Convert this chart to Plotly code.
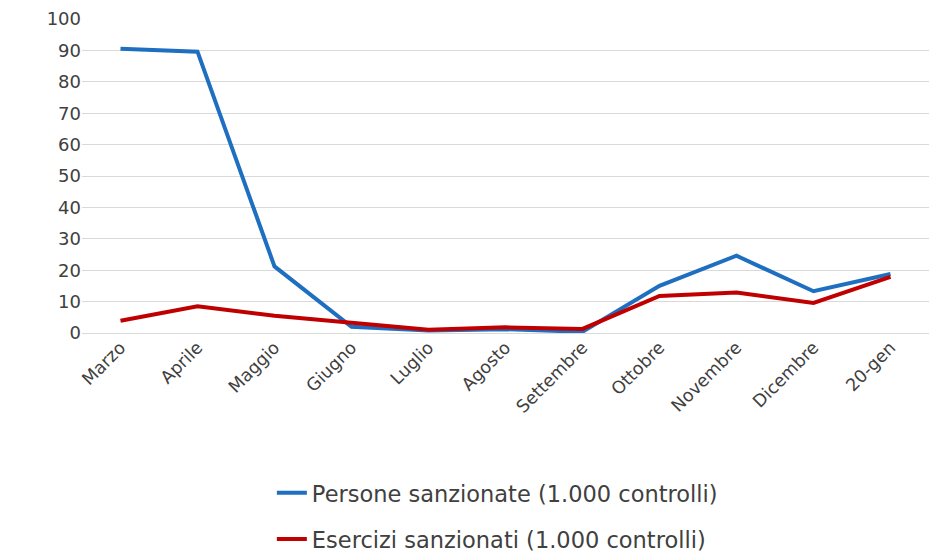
import plotly.graph_objects as go

months = ["Marzo", "Aprile", "Maggio", "Giugno", "Luglio", "Agosto", "Settembre",
          "Ottobre", "Novembre", "Dicembre", "20-gen"]
persone = [90.5, 89.6, 21.2, 2.0, 0.8, 1.2, 0.4, 15.0, 24.6, 13.3, 18.8]
esercizi = [3.9, 8.5, 5.5, 3.2, 1.0, 1.8, 1.3, 11.8, 12.9, 9.6, 17.9]
name_p = "Persone sanzionate (1.000 controlli)"
name_e = "Esercizi sanzionati (1.000 controlli)"

font_family = "'DejaVu Sans', sans-serif"
text_color = "#404040"

fig = go.Figure()
fig.add_trace(go.Scatter(x=months, y=persone, mode="lines", name=name_p, legendgroup="p",
                         line=dict(color="#1F6FC0", width=4)))
fig.add_trace(go.Scatter(x=months, y=esercizi, mode="lines", name=name_e, legendgroup="e",
                         line=dict(color="#C00000", width=4)))

fig.update_layout(
    width=939, height=556,
    margin=dict(l=74, r=18, t=11, b=231, autoexpand=False),
    paper_bgcolor="white", plot_bgcolor="white",
    font=dict(family=font_family, size=17, color=text_color),
    showlegend=True,
    legend=dict(orientation="v", x=0.281, xanchor="left", y=0.166, yanchor="top",
                xref="container", yref="container",
                font=dict(size=22.5, color=text_color), tracegroupgap=14),
    xaxis=dict(type="category", range=[-0.5, 10.5], tickangle=-45, automargin=False,
               showgrid=False, showline=False, ticks="", tickfont=dict(size=17.5)),
    yaxis=dict(range=[0, 100], dtick=10, showgrid=True, gridcolor="#D9D9D9", automargin=False,
               gridwidth=1, zeroline=True, zerolinecolor="#D9D9D9", zerolinewidth=1,
               showline=False, ticks="", tickfont=dict(size=18)),
)

fig.write_html("out.html")
